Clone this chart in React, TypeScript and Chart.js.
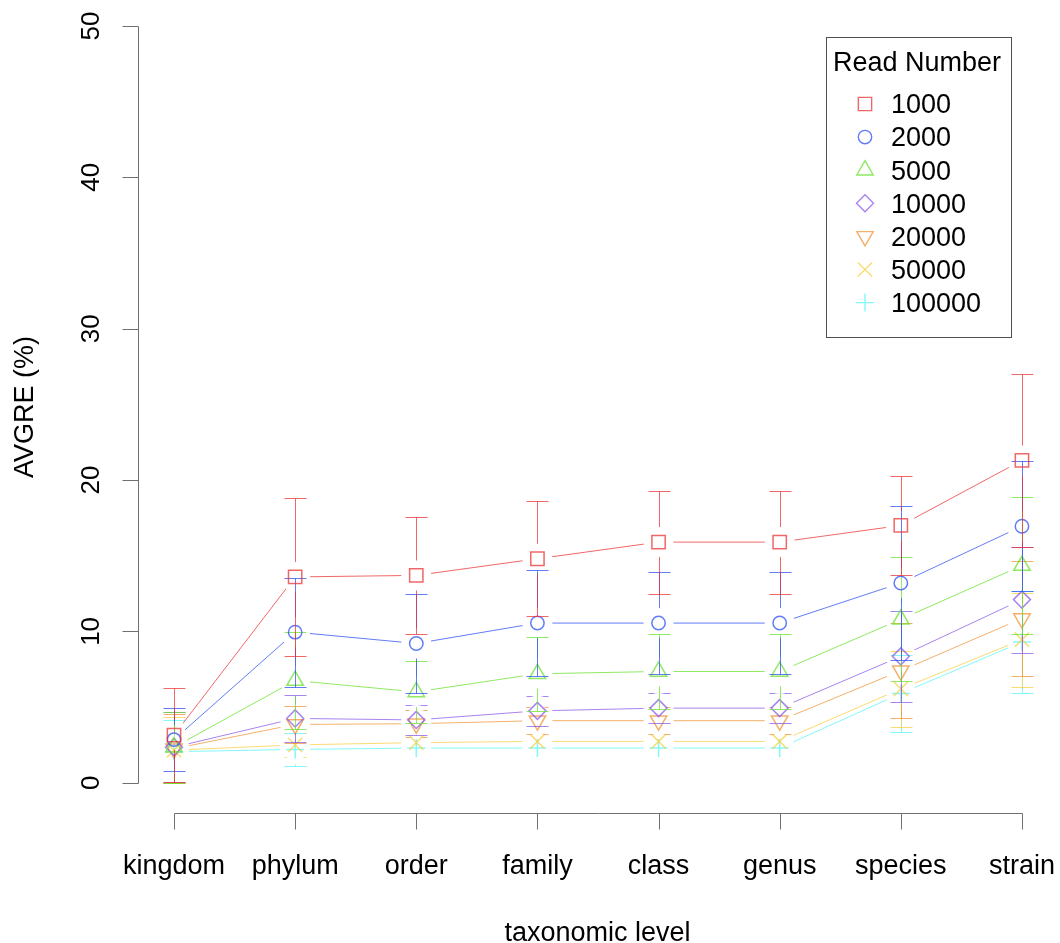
import React, { useEffect, useRef } from 'react';
import { Chart, registerables } from 'chart.js';
Chart.register(...registerables);

const categories = ['kingdom', 'phylum', 'order', 'family', 'class', 'genus', 'species', 'strain'];
const seriesNames = ['1000', '2000', '5000', '10000', '20000', '50000', '100000'];

const mean1000 = [3.15, 13.6, 13.7, 14.8, 15.9, 15.9, 17.0, 21.3];
const err1000 = [3.1, 5.2, 3.85, 3.8, 3.4, 3.4, 3.3, 5.7];
const mean2000 = [2.85, 9.95, 9.2, 10.55, 10.55, 10.55, 13.2, 16.95];
const err2000 = [2.1, 3.6, 3.3, 3.5, 3.35, 3.35, 5.1, 4.3];
const mean5000 = [2.35, 6.75, 6.0, 7.2, 7.35, 7.35, 10.8, 14.35];
const err5000 = [2.35, 3.2, 2.05, 2.45, 2.45, 2.45, 4.1, 4.5];
const mean10000 = [2.35, 4.25, 4.15, 4.75, 4.93, 4.93, 8.35, 12.1];
const err10000 = [2.3, 1.55, 1.0, 1.0, 1.0, 1.0, 3.0, 3.5];
const mean20000 = [2.25, 3.85, 3.9, 4.1, 4.1, 4.1, 7.4, 10.85];
const err20000 = [2.3, 1.2, 0.9, 0.9, 0.9, 0.9, 3.15, 3.8];
const mean50000 = [2.15, 2.5, 2.65, 2.73, 2.73, 2.73, 6.2, 9.45];
const err50000 = [2.2, 0.8, 0.6, 0.6, 0.6, 0.6, 2.5, 3.1];
const mean100000 = [2.05, 2.2, 2.29, 2.29, 2.29, 2.29, 5.9, 9.3];
const err100000 = [2.1, 1.1, 0.6, 0.6, 0.6, 0.6, 2.55, 3.35];

const yTicks = [0, 10, 20, 30, 40, 50];

const means = [mean1000, mean2000, mean5000, mean10000, mean20000, mean50000, mean100000];
const errs = [err1000, err2000, err5000, err10000, err20000, err50000, err100000];

const colors = [
  'rgba(235,45,45,0.72)',
  'rgba(45,80,245,0.75)',
  'rgba(105,225,45,0.75)',
  'rgba(140,90,235,0.75)',
  'rgba(240,145,50,0.72)',
  'rgba(250,205,60,0.72)',
  'rgba(90,245,245,0.75)',
];
const pointStyles = ['rect', 'circle', 'triangle', 'rectRot', 'triangle', 'crossRot', 'cross'];
const rotations = [0, 0, 0, 0, 180, 0, 0];
const radii = [9.4, 6.7, 9.5, 8.5, 9.5, 10, 9];

const FONT = '"Liberation Sans", Arial, Helvetica, sans-serif';
const GAP = 15;
const CAP = 11;

function drawMarker(ctx: CanvasRenderingContext2D, style: string, x: number, y: number, r: number, rotDeg: number) {
  const rad = (rotDeg * Math.PI) / 180;
  ctx.beginPath();
  if (style === 'rect') {
    const s = Math.SQRT1_2 * r;
    ctx.rect(x - s, y - s, 2 * s, 2 * s);
  } else if (style === 'circle') {
    ctx.arc(x, y, r, 0, Math.PI * 2);
  } else if (style === 'triangle') {
    let a = rad;
    ctx.moveTo(x + Math.sin(a) * r, y - Math.cos(a) * r);
    a += (2 * Math.PI) / 3;
    ctx.lineTo(x + Math.sin(a) * r, y - Math.cos(a) * r);
    a += (2 * Math.PI) / 3;
    ctx.lineTo(x + Math.sin(a) * r, y - Math.cos(a) * r);
    ctx.closePath();
  } else if (style === 'rectRot') {
    ctx.moveTo(x - r, y);
    ctx.lineTo(x, y - r);
    ctx.lineTo(x + r, y);
    ctx.lineTo(x, y + r);
    ctx.closePath();
  } else if (style === 'crossRot') {
    const o = Math.SQRT1_2 * r;
    ctx.moveTo(x - o, y - o);
    ctx.lineTo(x + o, y + o);
    ctx.moveTo(x - o, y + o);
    ctx.lineTo(x + o, y - o);
  } else if (style === 'cross') {
    ctx.moveTo(x - r, y);
    ctx.lineTo(x + r, y);
    ctx.moveTo(x, y - r);
    ctx.lineTo(x, y + r);
  }
  ctx.stroke();
}

const gapErrorPlugin = {
  id: 'gapError',
  beforeDatasetDraw(chart: any, args: any) {
    const ds = chart.data.datasets[args.index];
    if (ds.kind !== 'line') return;
    const ctx = chart.ctx;
    const xs = chart.scales.x;
    const ys = chart.scales.y;
    ctx.save();
    ctx.beginPath();
    ctx.rect(0, 0, chart.width, chart.height);
    ds.data.forEach((p: any) => {
      const px = xs.getPixelForValue(p.x);
      const py = ys.getPixelForValue(p.y);
      ctx.moveTo(px + GAP, py);
      ctx.arc(px, py, GAP, 0, Math.PI * 2, true);
    });
    ctx.clip('evenodd');
  },
  afterDatasetDraw(chart: any, args: any) {
    const ds = chart.data.datasets[args.index];
    if (ds.kind !== 'line') return;
    const ctx = chart.ctx;
    const xs = chart.scales.x;
    const ys = chart.scales.y;
    ctx.strokeStyle = ds.borderColor;
    ctx.lineWidth = 1;
    ds.data.forEach((p: any, j: number) => {
      const e = ds.errs[j];
      const px = Math.round(xs.getPixelForValue(p.x)) + 0.5;
      const top = Math.round(ys.getPixelForValue(p.y + e)) + 0.5;
      const bot = Math.round(ys.getPixelForValue(p.y - e)) + 0.5;
      ctx.beginPath();
      ctx.moveTo(px, top);
      ctx.lineTo(px, bot);
      ctx.moveTo(px - CAP, top);
      ctx.lineTo(px + CAP, top);
      ctx.moveTo(px - CAP, bot);
      ctx.lineTo(px + CAP, bot);
      ctx.stroke();
    });
    ctx.restore();
  },
};

const axesPlugin = {
  id: 'rAxes',
  afterDraw(chart: any) {
    const ctx = chart.ctx;
    const xs = chart.scales.x;
    const ys = chart.scales.y;
    const area = chart.chartArea;
    ctx.save();
    ctx.strokeStyle = '#707070';
    ctx.lineWidth = 1;
    // y axis
    const ax = Math.round(area.left) - 0.5;
    ctx.beginPath();
    ctx.moveTo(ax, Math.round(ys.getPixelForValue(yTicks[0])) + 0.5);
    ctx.lineTo(ax, Math.round(ys.getPixelForValue(yTicks[yTicks.length - 1])) + 0.5);
    yTicks.forEach((t) => {
      const py = Math.round(ys.getPixelForValue(t)) + 0.5;
      ctx.moveTo(ax, py);
      ctx.lineTo(ax - 16, py);
    });
    ctx.stroke();
    // x axis
    const ay = Math.round(area.bottom) + 0.5;
    ctx.beginPath();
    ctx.moveTo(Math.round(xs.getPixelForValue(1)) + 0.5, ay);
    ctx.lineTo(Math.round(xs.getPixelForValue(categories.length)) + 0.5, ay);
    categories.forEach((_, i) => {
      const px = Math.round(xs.getPixelForValue(i + 1)) + 0.5;
      ctx.moveTo(px, ay);
      ctx.lineTo(px, ay + 16);
    });
    ctx.stroke();

    ctx.fillStyle = '#000';
    ctx.font = `27px ${FONT}`;
    // x tick labels
    ctx.textAlign = 'center';
    ctx.textBaseline = 'alphabetic';
    categories.forEach((c, i) => {
      ctx.fillText(c, xs.getPixelForValue(i + 1), ay + 60);
    });
    // x title
    ctx.fillText('taxonomic level', (area.left + area.right) / 2, 941);
    // y tick labels (rotated)
    ctx.font = `26px ${FONT}`;
    yTicks.forEach((t) => {
      const py = ys.getPixelForValue(t);
      ctx.save();
      ctx.translate(99, py);
      ctx.rotate(-Math.PI / 2);
      ctx.textAlign = 'center';
      ctx.textBaseline = 'alphabetic';
      ctx.fillText(String(t), 0, 0);
      ctx.restore();
    });
    ctx.font = `27px ${FONT}`;
    // y title
    ctx.save();
    ctx.translate(33, 407);
    ctx.rotate(-Math.PI / 2);
    ctx.textAlign = 'center';
    ctx.fillText('AVGRE (%)', 0, 0);
    ctx.restore();

    // legend
    const lx = 826.5, ly = 37.5, lw = 185, lh = 300;
    ctx.strokeStyle = '#505050';
    ctx.lineWidth = 1;
    ctx.strokeRect(lx, ly, lw, lh);
    ctx.textAlign = 'left';
    ctx.fillText('Read Number', 833, 71);
    seriesNames.forEach((name, i) => {
      const base = 113.3 + i * 33.1;
      ctx.fillStyle = '#000';
      ctx.fillText(name, 891, base);
      ctx.strokeStyle = colors[i];
      ctx.lineWidth = 1.4;
      drawMarker(ctx, pointStyles[i], 865, base - 9.3, radii[i], rotations[i]);
    });
    ctx.restore();
  },
};

export default function App() {
  const ref = useRef<HTMLCanvasElement>(null);
  useEffect(() => {
    document.body.style.margin = '0';
    const datasets: any[] = [];
    seriesNames.forEach((name, i) => {
      const pts = means[i].map((v, j) => ({ x: j + 1, y: v }));
      datasets.push({
        label: name,
        kind: 'line',
        errs: errs[i],
        data: pts,
        borderColor: colors[i],
        borderWidth: 1,
        pointRadius: 0,
        fill: false,
        tension: 0,
      });
      datasets.push({
        label: name + ' points',
        kind: 'points',
        data: pts,
        showLine: false,
        borderColor: colors[i],
        backgroundColor: 'rgba(0,0,0,0)',
        pointStyle: pointStyles[i],
        pointRotation: rotations[i],
        pointRadius: radii[i],
        pointBorderWidth: 1.5,
        pointBorderColor: colors[i],
        pointBackgroundColor: 'rgba(0,0,0,0)',
      });
    });
    const chart = new Chart(ref.current!, {
      type: 'line',
      data: { datasets },
      options: {
        responsive: false,
        animation: false,
        devicePixelRatio: 1,
        events: [],
        layout: { autoPadding: false, padding: { left: 139, right: 4, top: 0, bottom: 130 } },
        scales: {
          x: { type: 'linear', min: 0.711, max: 8.281, display: false },
          y: { type: 'linear', min: -2, max: 51.72, display: false },
        },
        plugins: { legend: { display: false }, tooltip: { enabled: false } },
      },
      plugins: [gapErrorPlugin, axesPlugin],
    } as any);
    return () => chart.destroy();
  }, []);
  return (
    <div style={{ position: 'fixed', left: 0, top: 0, width: 1060, height: 943, background: '#fff' }}>
      <canvas ref={ref} width={1060} height={943} />
    </div>
  );
}
